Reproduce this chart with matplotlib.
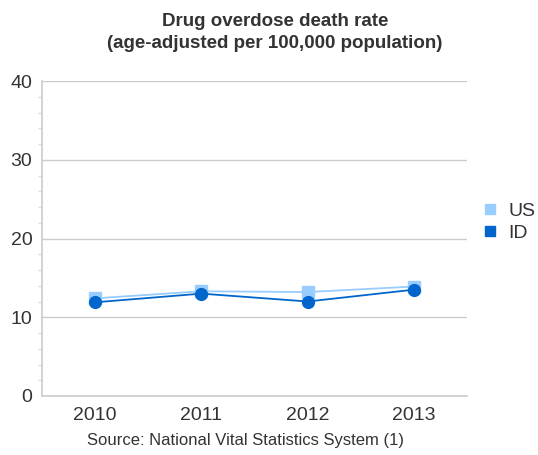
import matplotlib.pyplot as plt
from matplotlib.ticker import MultipleLocator

plt.rcParams['font.family'] = ['Liberation Sans', 'DejaVu Sans']

years = ['2010', '2011', '2012', '2013']
us_rate = [12.4, 13.3, 13.2, 13.9]
id_rate = [11.9, 13.0, 12.0, 13.5]

fig = plt.figure(figsize=(5.38, 4.55), dpi=100)
ax = fig.add_axes([42 / 538, 59 / 455, 425 / 538, 315 / 455])

x = range(len(years))
ax.plot(x, us_rate, color='#99ccff', marker='s', markersize=8, linewidth=1.3, label='US', zorder=3)
ax.plot(x, id_rate, color='#0066cc', marker='o', markersize=8.5, linewidth=1.3, label='ID', zorder=4)

ax.set_xlim(-0.5, 3.5)
ax.set_ylim(0, 40)
ax.set_xticks(list(x))
ax.set_xticklabels(years)
ax.set_yticks([0, 10, 20, 30, 40])
ax.yaxis.set_minor_locator(MultipleLocator(2))
ax.grid(axis='y', color='#cccccc', linewidth=1)
ax.set_axisbelow(True)

for side in ['top', 'right']:
    ax.spines[side].set_visible(False)
ax.spines['left'].set_color('#cccccc')
ax.spines['bottom'].set_color('#cccccc')
ax.spines['left'].set_linewidth(1.2)
ax.spines['bottom'].set_linewidth(1.2)

ax.tick_params(axis='x', length=0, labelsize=14, colors='#333333', pad=8)
ax.tick_params(axis='y', which='major', length=0, labelsize=14, colors='#333333', pad=7)
ax.tick_params(axis='y', which='minor', length=3, color='#dddddd', width=1)

fig.text(275 / 538, 1 - 22 / 455, 'Drug overdose death rate', ha='center', va='center',
         fontsize=13.5, fontweight='bold', color='#333333')
fig.text(275 / 538, 1 - 44 / 455, '(age-adjusted per 100,000 population)', ha='center', va='center',
         fontsize=13.5, fontweight='bold', color='#333333')
fig.text(246 / 538, 1 - 441 / 455, 'Source: National Vital Statistics System (1)', ha='center',
         va='center', fontsize=12, color='#333333')

leg = fig.legend(loc='center left', bbox_to_anchor=(483 / 538, 1 - 222 / 455), frameon=False,
                 fontsize=14, handlelength=0.7, handletextpad=0.6, labelspacing=0.2,
                 borderpad=0, borderaxespad=0)
for h in leg.legend_handles:
    h.set_linestyle('none')
    h.set_marker('s')
    h.set_markersize(7.5)
for t in leg.get_texts():
    t.set_color('#333333')

fig.savefig('out.png', dpi=100)
